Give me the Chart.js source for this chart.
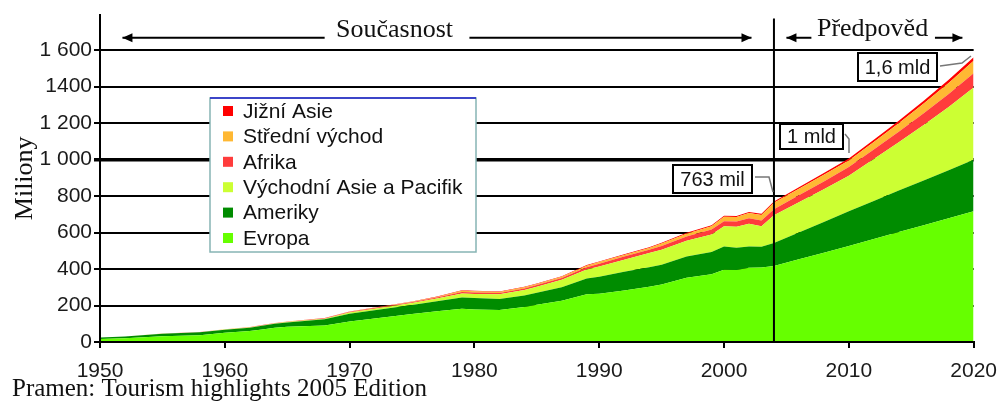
<!DOCTYPE html>
<html>
<head>
<meta charset="utf-8">
<script src="https://cdn.jsdelivr.net/npm/chart.js@4.4.1/dist/chart.umd.min.js"></script>
<style>
html, body { margin: 0; padding: 0; background: #fff; }
</style>
</head>
<body>
<canvas id="c" width="1008" height="405"></canvas>
<script>
// roky a mezinárodní příjezdy (miliony) podle regionů
const years = [1950, 1952, 1955, 1958, 1960, 1962, 1963, 1964, 1965, 1968, 1970, 1972, 1975, 1977, 1979, 1980,
    1982, 1984, 1985, 1987, 1989, 1990, 1992, 1994, 1995, 1997, 1999, 2000, 2001, 2002, 2003, 2004,
    2006, 2008, 2010, 2012, 2014, 2016, 2018, 2020];
const evropa = [16.8, 20.5, 31.0, 37.5, 50.4, 60.0, 68.5, 77.5, 83.7, 90.0, 113.0, 128.5, 153.4, 168.0, 182.0, 178.5,
    176.0, 192.0, 204.3, 226.0, 262.0, 265.0, 283.0, 302.5, 315.0, 352.0, 371.0, 395.9, 395.2, 407.0, 408.6, 416.4,
    453, 490, 527, 565, 603, 640, 678, 717];
const ameriky = [7.5, 9.2, 13.7, 15.8, 16.7, 18.8, 20.4, 22.5, 23.2, 34.5, 42.3, 45.5, 50.0, 55.0, 62.0, 62.3,
    60.0, 63.0, 65.1, 74.0, 86.0, 92.8, 102.0, 108.0, 109.0, 116.5, 122.0, 128.2, 122.2, 116.7, 113.1, 125.8,
    147, 168, 190, 208, 227, 245, 263, 282];
const vychodniAsie = [0.2, 0.3, 0.5, 0.7, 0.9, 1.2, 1.5, 1.8, 2.1, 3.5, 6.2, 8.7, 10.2, 15.0, 22.5, 23.0,
    25.5, 30.0, 32.9, 41.0, 49.0, 56.2, 66.0, 77.0, 82.0, 87.0, 97.0, 110.1, 114.9, 124.9, 113.3, 152.5,
    166, 180, 195, 230, 265, 305, 348, 397];
const afrika = [0.5, 0.5, 0.6, 0.7, 0.8, 0.9, 1.0, 1.2, 1.4, 1.8, 2.4, 3.1, 4.7, 5.6, 7.2, 7.2,
    7.6, 9.0, 9.7, 10.5, 13.5, 15.2, 18.0, 18.5, 20.1, 23.0, 26.5, 28.2, 28.9, 29.5, 30.8, 33.2,
    38, 42.5, 47, 52.5, 58, 64, 70.5, 77];
const stredniVychod = [0.2, 0.2, 0.2, 0.4, 0.6, 0.8, 1.0, 1.3, 2.0, 1.0, 1.9, 2.3, 2.5, 3.8, 7.3, 7.5,
    5.5, 6.0, 6.0, 6.5, 8.0, 9.6, 8.3, 9.8, 13.7, 15.0, 18.5, 24.1, 23.5, 29.2, 30.0, 35.4,
    35.6, 35.8, 36, 41, 47, 54, 61, 69];
const jizniAsie = [0.1, 0.1, 0.1, 0.2, 0.2, 0.3, 0.3, 0.4, 0.4, 0.6, 0.9, 1.1, 1.5, 1.9, 2.1, 2.3,
    2.3, 2.5, 2.5, 2.6, 3.0, 3.2, 3.5, 4.0, 4.2, 4.8, 5.4, 6.1, 5.7, 6.0, 6.8, 7.6,
    8.6, 9.6, 10.6, 12, 13.5, 15.2, 17, 19];

const yTickValues = [0, 200, 400, 600, 800, 1000, 1200, 1400, 1600];
const yTickLabels = ['0', '200', '400', '600', '800', '1 000', '1 200', '1400', '1 600'];

const series = [
    { label: 'Evropa', values: evropa, color: '#66FF00' },
    { label: 'Ameriky', values: ameriky, color: '#008C00' },
    { label: 'Východní Asie a Pacifik', values: vychodniAsie, color: '#CCFF33' },
    { label: 'Afrika', values: afrika, color: '#FF3C3C' },
    { label: 'Střední východ', values: stredniVychod, color: '#FFB833' },
    { label: 'Jižní Asie', values: jizniAsie, color: '#FF0000' }
];

const SANS = '"Liberation Sans", Arial, sans-serif';
const SERIF = '"Liberation Serif", "Times New Roman", serif';

function arrow(ctx, x1, y1, x2, y2) {
    ctx.beginPath();
    ctx.moveTo(x1, y1);
    ctx.lineTo(x2, y2);
    ctx.stroke();
    const d = Math.sign(x2 - x1);
    ctx.beginPath();
    ctx.moveTo(x2, y2);
    ctx.lineTo(x2 - d * 10, y2 - 4.5);
    ctx.lineTo(x2 - d * 10, y2 + 4.5);
    ctx.closePath();
    ctx.fill();
}

function labelBox(ctx, text, x1, y1, x2, y2, leader) {
    ctx.fillStyle = '#fff';
    ctx.fillRect(x1, y1, x2 - x1, y2 - y1);
    ctx.strokeStyle = '#000';
    ctx.lineWidth = 2;
    ctx.strokeRect(x1, y1, x2 - x1, y2 - y1);
    ctx.fillStyle = '#111';
    ctx.font = '20px ' + SANS;
    ctx.textAlign = 'center';
    ctx.textBaseline = 'middle';
    ctx.fillText(text, (x1 + x2) / 2, (y1 + y2) / 2 + 1);
    ctx.strokeStyle = '#777';
    ctx.lineWidth = 1.5;
    ctx.beginPath();
    leader.forEach((p, i) => i ? ctx.lineTo(p[0], p[1]) : ctx.moveTo(p[0], p[1]));
    ctx.stroke();
}

const overlay = {
    id: 'overlay',
    afterDatasetsDraw(chart) {
        const { ctx, chartArea: a, scales: { x, y } } = chart;
        ctx.save();

        // osy znovu přes plochy
        ctx.strokeStyle = '#000';
        ctx.lineWidth = 2;
        ctx.beginPath();
        ctx.moveTo(a.left, a.top);
        ctx.lineTo(a.left, a.bottom);
        ctx.lineTo(a.right, a.bottom);
        ctx.stroke();

        // hranice současnost / předpověď
        const x04 = x.getPixelForValue(2004);
        ctx.beginPath();
        ctx.moveTo(x04, a.top + 4);
        ctx.lineTo(x04, a.bottom);
        ctx.stroke();

        // šipky nahoře
        ctx.fillStyle = '#000';
        const ay = y.getPixelForValue(1668);
        arrow(ctx, x.getPixelForValue(1968), ay, x.getPixelForValue(1951.8), ay);
        arrow(ctx, x.getPixelForValue(1979.6), ay, x.getPixelForValue(2002.2), ay);
        arrow(ctx, x.getPixelForValue(2007.0), ay, x.getPixelForValue(2005.0), ay);
        arrow(ctx, x.getPixelForValue(2016.9), ay, x.getPixelForValue(2019.1), ay);
        ctx.font = '26px ' + SERIF;
        ctx.textAlign = 'center';
        ctx.textBaseline = 'alphabetic';
        ctx.fillStyle = '#111';
        ctx.fillText('Současnost', x.getPixelForValue(1973.6), 37);
        ctx.fillText('Předpověd', x.getPixelForValue(2011.9), 36);

        // popisky hodnot
        labelBox(ctx, '1,6 mld', 858, 53, 937, 81, [[940, 66], [962, 63], [971, 56]]);
        labelBox(ctx, '1 mld', 780, 124, 843, 149, [[845, 134], [849, 139], [849, 153]]);
        labelBox(ctx, '763 mil', 673, 165, 752, 193, [[755, 177], [769, 177], [773, 192]]);

        // legenda
        const lx = 210, ly = 98, lw = 266, lh = 154;
        ctx.fillStyle = '#fff';
        ctx.fillRect(lx, ly, lw, lh);
        ctx.strokeStyle = '#86B4B4';
        ctx.lineWidth = 1.5;
        ctx.strokeRect(lx, ly, lw, lh);
        ctx.strokeStyle = '#1a1aC8';
        ctx.beginPath();
        ctx.moveTo(lx, ly);
        ctx.lineTo(lx + lw, ly);
        ctx.stroke();
        ctx.font = '21px ' + SANS;
        ctx.textAlign = 'left';
        ctx.textBaseline = 'middle';
        const items = chart.data.datasets.slice().reverse();
        items.forEach((ds, i) => {
            const cy = ly + 13 + i * 25.4;
            ctx.fillStyle = ds.backgroundColor;
            ctx.fillRect(lx + 13, cy - 5, 10, 10);
            ctx.fillStyle = '#111';
            ctx.fillText(ds.label, lx + 33, cy + 1);
        });

        // zdroj
        ctx.font = '25px ' + SERIF;
        ctx.textBaseline = 'alphabetic';
        ctx.fillStyle = '#111';
        ctx.fillText('Pramen: Tourism highlights 2005 Edition', 12, 396);

        ctx.restore();
    }
};

new Chart(document.getElementById('c'), {
    type: 'line',
    data: {
        datasets: series.map((s, i) => ({
            label: s.label,
            data: years.map((yr, j) => ({ x: yr, y: s.values[j] })),
            backgroundColor: s.color,
            borderColor: s.color,
            borderWidth: 0,
            pointRadius: 0,
            tension: 0,
            fill: i === 0 ? 'origin' : '-1'
        }))
    },
    options: {
        responsive: false,
        animation: false,
        devicePixelRatio: 1,
        layout: { padding: { top: 9, left: 0, right: 32, bottom: 26 } },
        plugins: { legend: { display: false }, tooltip: { enabled: false } },
        scales: {
            x: {
                type: 'linear',
                min: 1950,
                max: 2020,
                afterFit: (s) => { s.height = 37; },
                ticks: {
                    stepSize: 10,
                    autoSkip: false,
                    maxRotation: 0,
                    padding: 11,
                    color: '#1a1a1a',
                    font: { family: SANS, size: 21 },
                    callback: (v) => String(v)
                },
                grid: { drawOnChartArea: false, drawTicks: true, tickLength: 6, color: '#000', lineWidth: 2 },
                border: { display: true, color: '#000', width: 2 }
            },
            y: {
                stacked: true,
                min: 0,
                max: 1795,
                afterFit: (s) => { s.width = 100; },
                afterBuildTicks: (s) => { s.ticks = yTickValues.map((v) => ({ value: v })); },
                ticks: {
                    padding: 2,
                    color: '#1a1a1a',
                    font: { family: SANS, size: 21 },
                    callback: (v) => {
                        const i = yTickValues.indexOf(v);
                        return i < 0 ? '' : yTickLabels[i];
                    }
                },
                grid: {
                    color: '#000',
                    lineWidth: (c) => (c.tick && c.tick.value === 1000 ? 3.5 : 2),
                    tickLength: 6
                },
                border: { color: '#000', width: 2 },
                title: {
                    display: true,
                    text: 'Miliony',
                    color: '#111',
                    font: { family: SERIF, size: 26 },
                    padding: { top: 10, bottom: 0 }
                }
            }
        }
    },
    plugins: [overlay]
});
</script>
</body>
</html>
